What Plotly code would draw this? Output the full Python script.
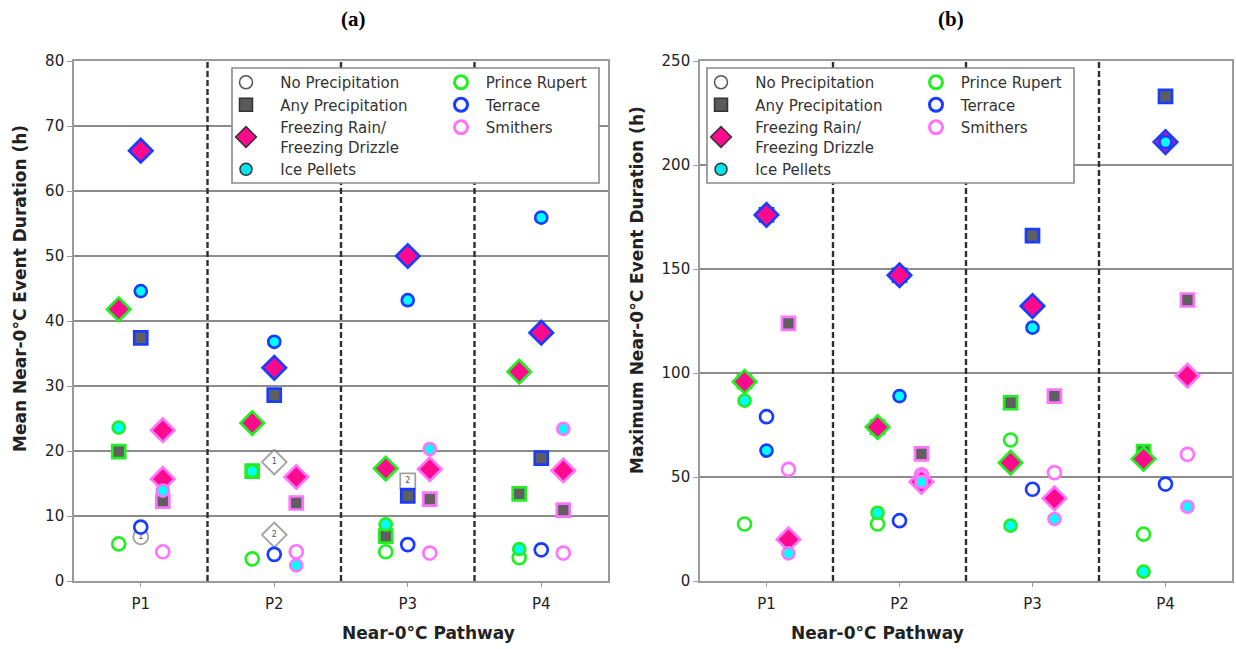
import plotly.graph_objects as go

W, H = 1236, 649

pathways = ["P1", "P2", "P3", "P4"]

# ---- (a) mean near-0°C event duration (h) ----
a_pr_none = [5.7, 3.4, 4.5, 3.6]
a_pr_any = [19.9, 16.9, 6.9, 13.4]
a_pr_fzra = [41.8, 24.3, 17.3, 32.2]
a_pr_ip = [23.6, 16.9, 8.7, 4.9]

a_te_none = [8.3, 4.1, 5.6, 4.8]
a_te_any = [37.4, 28.6, 13.1, 18.9]
a_te_fzra = [66.2, 32.8, 50.0, 38.2]
a_te_ip = [44.6, 36.8, 43.2, 55.9]

a_sm_none = [4.5, 4.5, 4.3, 4.3]
a_sm_any = [12.3, 12.0, 12.6, 10.9]
a_sm_fzra_path = ["P1", "P1", "P2", "P3", "P4"]
a_sm_fzra = [23.2, 15.7, 16.0, 17.2, 17.0]
a_sm_ip = [13.9, 2.4, 20.3, 23.4]

# numbered reference markers in (a)
a_ref_path = ["P1", "P2", "P2", "P3"]
a_ref_cat = ["none", "fzra", "fzra", "any"]
a_ref_vals = [6.8, 18.3, 7.1, 15.4]
a_ref_text = ["1", "1", "2", "2"]

# ---- (b) maximum near-0°C event duration (h) ----
b_pr_none = [27.4, 27.4, 67.8, 22.5]
b_pr_any = [95.8, 74.0, 85.7, 62.2]
b_pr_fzra = [95.8, 74.0, 56.9, 58.7]
b_pr_ip = [86.7, 32.8, 26.6, 4.5]

b_te_none = [79.0, 29.0, 44.1, 46.6]
b_te_any = [176.0, 147.0, 166.0, 233.0]
b_te_fzra = [176.0, 147.0, 132.2, 211.0]
b_te_ip = [62.7, 88.9, 121.8, 211.0]

b_sm_none = [53.7, 51.0, 52.1, 60.9]
b_sm_any = [123.9, 61.1, 88.9, 135.1]
b_sm_fzra = [20.0, 47.7, 39.7, 98.7]
b_sm_ip = [13.3, 47.7, 29.8, 35.7]

stations = ["Prince Rupert", "Terrace", "Smithers"]
categories = ["none", "any", "fzra", "ip"]
cat_names = {
    "none": "No Precipitation",
    "any": "Any Precipitation",
    "fzra": "Freezing Rain/<br>Freezing Drizzle",
    "ip": "Ice Pellets",
}

station_color = {"Prince Rupert": "#22ee22", "Terrace": "#1a3cff", "Smithers": "#ff73ff"}
station_shift = {"Prince Rupert": -0.165, "Terrace": 0.0, "Smithers": 0.165}
cat_style = {
    "none": dict(symbol="circle", color="white", size=13),
    "any": dict(symbol="square", color="#5f5f5f", size=13),
    "fzra": dict(symbol="diamond", color="#ff0a8c", size=18),
    "ip": dict(symbol="circle", color="#00ffff", size=12),
}

panel_a = {
    "Prince Rupert": {"none": (pathways, a_pr_none), "any": (pathways, a_pr_any),
                      "fzra": (pathways, a_pr_fzra), "ip": (pathways, a_pr_ip)},
    "Terrace": {"none": (pathways, a_te_none), "any": (pathways, a_te_any),
                "fzra": (pathways, a_te_fzra), "ip": (pathways, a_te_ip)},
    "Smithers": {"none": (pathways, a_sm_none), "any": (pathways, a_sm_any),
                 "fzra": (a_sm_fzra_path, a_sm_fzra), "ip": (pathways, a_sm_ip)},
}
panel_b = {
    "Prince Rupert": {"none": (pathways, b_pr_none), "any": (pathways, b_pr_any),
                      "fzra": (pathways, b_pr_fzra), "ip": (pathways, b_pr_ip)},
    "Terrace": {"none": (pathways, b_te_none), "any": (pathways, b_te_any),
                "fzra": (pathways, b_te_fzra), "ip": (pathways, b_te_ip)},
    "Smithers": {"none": (pathways, b_sm_none), "any": (pathways, b_sm_any),
                 "fzra": (pathways, b_sm_fzra), "ip": (pathways, b_sm_ip)},
}


def px_x(v):
    return v / W


def px_y(v):
    return 1 - v / H


def xpos(paths, shift):
    return [pathways.index(p) + shift for p in paths]


fig = go.Figure()

FONT = "DejaVu Sans"
TEXT = "#222222"
NB = "\u00a0"

# numbered grey reference markers (drawn first, underneath station markers)
fig.add_trace(go.Scatter(
    x=xpos(a_ref_path, 0.0), y=a_ref_vals, mode="markers+text",
    text=a_ref_text, textposition="middle center",
    textfont=dict(family=FONT, size=8, color="#555555"),
    marker=dict(symbol=[cat_style[c]["symbol"] for c in a_ref_cat],
                size=[15 if c == "none" else (19 if c == "fzra" else 15) for c in a_ref_cat],
                color="white", line=dict(color="#7a7a7a", width=1.8)),
    xaxis="x", yaxis="y", showlegend=False, hoverinfo="skip"))

for data, xa, ya in ((panel_a, "x", "y"), (panel_b, "x2", "y2")):
    for st in stations:
        for cat in categories:
            paths, vals = data[st][cat]
            sty = cat_style[cat]
            fig.add_trace(go.Scatter(
                x=xpos(paths, station_shift[st]), y=vals, mode="markers",
                marker=dict(symbol=sty["symbol"], size=sty["size"], color=sty["color"],
                            line=dict(color=station_color[st], width=2.7)),
                name=f"{st} – {cat_names[cat]}",
                xaxis=xa, yaxis=ya, showlegend=False))

# legend entries: category keys (column 1) and station keys (column 2) per panel
legend_cat_marker = {
    "none": dict(symbol="circle", size=13, color="white", line=dict(color="#555555", width=1.5)),
    "any": dict(symbol="square", size=13, color="#5a5a5a", line=dict(color="#333333", width=1.5)),
    "fzra": dict(symbol="diamond", size=16, color="#ff0a8c", line=dict(color="#333333", width=1.5)),
    "ip": dict(symbol="circle", size=12, color="#00e5ee", line=dict(color="#333333", width=1.5)),
}


def pad_label(label, n):
    return "<br>".join(NB * n + part for part in label.split("<br>"))


for lg_cat, lg_st in (("legend", "legend2"), ("legend3", "legend4")):
    for cat in categories:
        fig.add_trace(go.Scatter(x=[None], y=[None], mode="markers",
                                 name=pad_label(cat_names[cat], 3),
                                 marker=legend_cat_marker[cat], legend=lg_cat,
                                 xaxis="x", yaxis="y"))
    for st in stations:
        fig.add_trace(go.Scatter(x=[None], y=[None], mode="markers", name=pad_label(st, 1),
                                 marker=dict(symbol="circle", size=13, color="white",
                                             line=dict(color=station_color[st], width=3)),
                                 legend=lg_st, xaxis="x", yaxis="y"))

# panel geometry in pixels
A_X0, A_X1 = 74, 608
B_X0, B_X1 = 700, 1232
Y_TOP, Y_BOT = 61, 581

axis_common = dict(
    showline=True, linecolor="#9a9a9a", linewidth=1.6, mirror=True, automargin=False,
    tickfont=dict(family=FONT, size=15, color=TEXT), zeroline=False,
)
fig.update_layout(
    width=W, height=H, margin=dict(l=0, r=0, t=0, b=0, autoexpand=False),
    paper_bgcolor="white", plot_bgcolor="white",
    xaxis=dict(domain=[px_x(A_X0), px_x(A_X1)], range=[-0.5, 3.5],
               tickvals=[0, 1, 2, 3], ticktext=pathways, showgrid=False,
               ticks="outside", ticklen=4, tickcolor="#9a9a9a", ticklabelstandoff=4,
               anchor="y", **axis_common),
    yaxis=dict(domain=[px_y(Y_BOT), px_y(Y_TOP)], range=[0, 80], dtick=10,
               showgrid=True, gridcolor="#8c8c8c", gridwidth=1.6,
               ticks="outside", ticklen=5, tickcolor="#9a9a9a", anchor="x", **axis_common),
    xaxis2=dict(domain=[px_x(B_X0), px_x(B_X1)], range=[-0.5, 3.5],
                tickvals=[0, 1, 2, 3], ticktext=pathways, showgrid=False,
                ticks="outside", ticklen=4, tickcolor="#9a9a9a", ticklabelstandoff=4,
                anchor="y2", **axis_common),
    yaxis2=dict(domain=[px_y(Y_BOT), px_y(Y_TOP)], range=[0, 250], dtick=50,
                showgrid=True, gridcolor="#8c8c8c", gridwidth=1.6,
                ticks="outside", ticklen=5, tickcolor="#9a9a9a", anchor="x2", **axis_common),
)

# dashed separators between pathways
shapes = []
for xa, ya in (("x", "y"), ("x2", "y2")):
    for xv in (0.5, 1.5, 2.5):
        shapes.append(dict(type="line", xref=xa, yref=f"{ya} domain", x0=xv, x1=xv, y0=0, y1=1,
                           line=dict(color="#2e2e2e", width=2.4, dash="6px,3px"), layer="above"))

# legend frames
for lx0, lx1 in ((232, 599), (707, 1074)):
    shapes.append(dict(type="rect", xref="paper", yref="paper",
                       x0=px_x(lx0), x1=px_x(lx1), y0=px_y(183), y1=px_y(68),
                       line=dict(color="#8a8a8a", width=1.6), fillcolor="white", layer="above"))
fig.update_layout(shapes=shapes)

legend_common = dict(bgcolor="rgba(0,0,0,0)", borderwidth=0, xanchor="left", yanchor="top",
                     font=dict(family=FONT, size=15, color="#333333"), tracegroupgap=0,
                     itemclick=False, itemdoubleclick=False)
fig.update_layout(
    legend=dict(x=px_x(226), y=px_y(66), **legend_common),
    legend2=dict(x=px_x(441), y=px_y(66), **legend_common),
    legend3=dict(x=px_x(701), y=px_y(66), **legend_common),
    legend4=dict(x=px_x(916), y=px_y(66), **legend_common),
)

annotations = [
    dict(text="<b>(a)</b>", x=px_x(339), y=px_y(19), xref="paper", yref="paper",
         yanchor="middle", showarrow=False,
         font=dict(family="Liberation Serif", size=21, color="black")),
    dict(text="<b>(b)</b>", x=px_x(966), y=px_y(19), xref="paper", yref="paper",
         yanchor="middle", showarrow=False,
         font=dict(family="Liberation Serif", size=21, color="black")),
    dict(text="<b>Near-0°C Pathway</b>", x=px_x(340), y=px_y(633), xref="paper", yref="paper",
         yanchor="middle", showarrow=False, font=dict(family=FONT, size=17, color=TEXT)),
    dict(text="<b>Near-0°C Pathway</b>", x=px_x(966), y=px_y(633), xref="paper", yref="paper",
         yanchor="middle", showarrow=False, font=dict(family=FONT, size=17, color=TEXT)),
    dict(text="<b>Mean Near-0°C Event Duration (h)</b>", x=px_x(20), y=px_y(289),
         xref="paper", yref="paper", xanchor="center", yanchor="middle",
         showarrow=False, textangle=-90, font=dict(family=FONT, size=17, color=TEXT)),
    dict(text="<b>Maximum Near-0°C Event Duration (h)</b>", x=px_x(637), y=px_y(290),
         xref="paper", yref="paper", xanchor="center", yanchor="middle",
         showarrow=False, textangle=-90, font=dict(family=FONT, size=17, color=TEXT)),
]
fig.update_layout(annotations=annotations)

fig.write_html("out.html")
